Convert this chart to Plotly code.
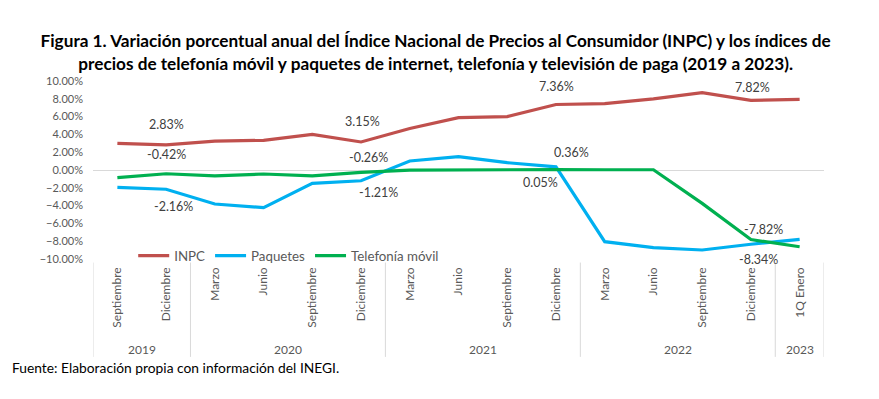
import plotly.graph_objects as go

years = ["2019", "2019", "2020", "2020", "2020", "2020", "2021", "2021", "2021", "2021",
         "2022", "2022", "2022", "2022", "2023"]
months = ["Septiembre", "Diciembre", "Marzo", "Junio", "Septiembre", "Diciembre",
          "Marzo", "Junio", "Septiembre", "Diciembre", "Marzo", "Junio", "Septiembre",
          "Diciembre", "1Q Enero"]

inpc = [3.00, 2.83, 3.25, 3.33, 4.01, 3.15, 4.67, 5.88, 6.00, 7.36, 7.45, 7.99, 8.70, 7.82, 7.94]
paquetes = [-1.95, -2.16, -3.82, -4.23, -1.50, -1.21, 1.01, 1.50, 0.82, 0.36,
            -8.05, -8.73, -8.99, -8.34, -7.79]
telefonia = [-0.86, -0.42, -0.67, -0.45, -0.65, -0.26, -0.02, 0.00, 0.10, 0.05,
             0.03, 0.03, -3.75, -7.82, -8.62]

FONT = "Lato, 'Open Sans', sans-serif"
GRAY = "#595959"

pos = list(range(len(months)))

fig = go.Figure()
fig.add_trace(go.Scatter(x=pos, y=inpc, mode="lines", name="INPC",
                         line=dict(color="#C0504D", width=3.2)))
fig.add_trace(go.Scatter(x=pos, y=paquetes, mode="lines", name="Paquetes",
                         line=dict(color="#00B0F0", width=3.2)))
fig.add_trace(go.Scatter(x=pos, y=telefonia, mode="lines", name="Telefonía móvil",
                         line=dict(color="#00B050", width=3.2)))

# data labels (series, index, xshift, yshift)
labels = [
    (inpc, 1, 0, 20), (telefonia, 1, 0, 19), (paquetes, 1, 7, -17),
    (inpc, 5, 1, 20), (telefonia, 5, 7, 15), (paquetes, 5, 17, -12),
    (inpc, 9, 1, 18), (paquetes, 9, 16, 14), (telefonia, 9, -15, -13),
    (inpc, 13, 2, 13), (telefonia, 13, 13, 10), (paquetes, 13, 8, -15),
]
for series, i, xs, ys in labels:
    fig.add_annotation(x=pos[i], y=series[i], xref="x", yref="y",
                       text=f"{series[i]:.2f}%", showarrow=False,
                       xshift=xs, yshift=ys,
                       font=dict(family=FONT, size=12.5, color="#404040"))

# year group labels and dividers
groups = []
for i, yv in enumerate(years):
    if not groups or groups[-1][0] != yv:
        groups.append([yv, i, i])
    else:
        groups[-1][2] = i
for yv, a, b in groups:
    fig.add_annotation(x=(a + b) / 2, y=-0.51, xref="x", yref="paper", text=yv,
                       showarrow=False, yanchor="middle",
                       font=dict(family=FONT, size=12, color=GRAY))
edges = [g[1] - 0.5 for g in groups] + [groups[-1][2] + 0.5]
for e in edges:
    fig.add_shape(type="line", x0=e, x1=e, y0=-0.02, y1=-0.55, xref="x", yref="paper",
                  line=dict(color="#D9D9D9", width=1))

fig.add_annotation(text="Fuente: Elaboración propia con información del INEGI.",
                   xref="paper", yref="paper", x=-0.113, y=-0.61, xanchor="left",
                   yanchor="middle", showarrow=False,
                   font=dict(family=FONT, size=13.8, color="#000000"))

fig.update_layout(
    width=871, height=391,
    margin=dict(l=85, r=55, t=73, b=140),
    paper_bgcolor="white", plot_bgcolor="white",
    title=dict(
        text="<b>Figura 1. Variación porcentual anual del Índice Nacional de Precios al Consumidor (INPC) y los índices de<br>"
             "precios de telefonía móvil y paquetes de internet, telefonía y televisión de paga (2019 a 2023).</b>",
        x=0.491, xanchor="center", y=0.899, yanchor="middle",
        font=dict(family=FONT, size=17.2, color="#000000")),
    showlegend=True,
    legend=dict(orientation="h", x=0.055, y=0.017, xanchor="left", yanchor="middle",
                bgcolor="rgba(0,0,0,0)", font=dict(family=FONT, size=13.3, color=GRAY),
                itemwidth=31),
    font=dict(family=FONT, color=GRAY),
)
fig.update_xaxes(range=[-0.5, len(months) - 0.5], tickmode="array", tickvals=pos,
                 ticktext=months, tickangle=-90, showgrid=False, showline=False,
                 ticks="", zeroline=False, ticklabelstandoff=5,
                 tickfont=dict(family=FONT, size=12, color=GRAY))
fig.update_yaxes(range=[-10, 10], dtick=2, tickformat=".2f", ticksuffix="%",
                 showgrid=False, zeroline=True, zerolinecolor="#D9D9D9", zerolinewidth=1,
                 showline=False, ticks="", ticklabelstandoff=9,
                 tickfont=dict(family=FONT, size=11, color=GRAY))

fig.write_html("out.html")
